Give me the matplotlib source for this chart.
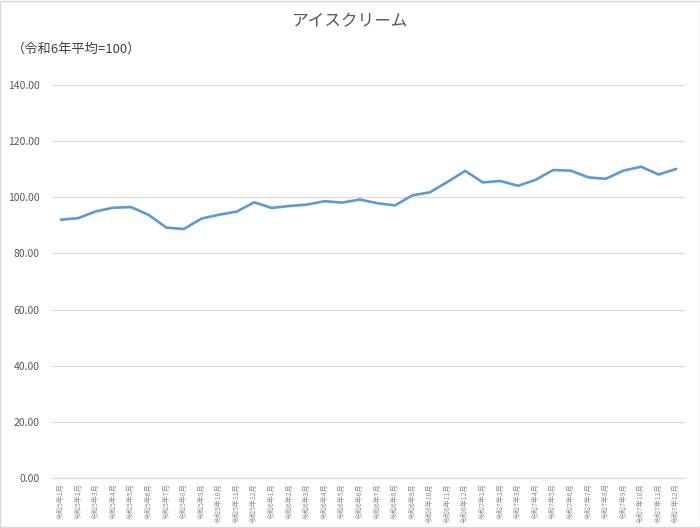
import matplotlib
matplotlib.use('Agg')
import matplotlib.pyplot as plt

plt.rcParams['font.family'] = ['Noto Sans CJK JP', 'DejaVu Sans']

# 令和5年1月 ～ 令和7年12月
months = [f"令和{y}年{m}月" for y in (5, 6, 7) for m in range(1, 13)]
values = [92.0, 92.6, 95.0, 96.3, 96.5, 93.7, 89.2, 88.7, 92.4, 93.8, 94.9, 98.2,
          96.2, 96.9, 97.4, 98.6, 98.1, 99.2, 97.9, 97.1, 100.7, 101.8, 105.5, 109.4,
          105.3, 105.8, 104.1, 106.2, 109.7, 109.5, 107.1, 106.6, 109.5, 110.9, 108.1, 110.1]
yticks = [0, 20, 40, 60, 80, 100, 120, 140]

fig = plt.figure(figsize=(7, 5.28), dpi=100)
ax = fig.add_axes([52 / 700, 50 / 528, 633 / 700, 393 / 528])

x = list(range(len(months)))
ax.plot(x, values, color='#5B9BD5', lw=1.9, solid_capstyle='round', solid_joinstyle='round')

ax.set_xlim(-0.5, len(months) - 0.5)
ax.set_ylim(0, 140)
ax.set_yticks(yticks)
ax.set_yticklabels([f"{v:.2f}" for v in yticks], fontsize=7.5, color='#595959')
ax.set_xticks(x)
ax.set_xticklabels(months, rotation=90, fontsize=5, color='#8C8C8C')
ax.tick_params(axis='both', length=0)
ax.tick_params(axis='y', pad=9)
ax.tick_params(axis='x', pad=4)

ax.grid(axis='y', color='#D9D9D9', lw=0.8)
ax.set_axisbelow(True)
for s in ('top', 'right', 'left'):
    ax.spines[s].set_visible(False)
ax.spines['bottom'].set_color('#D9D9D9')
ax.spines['bottom'].set_linewidth(0.8)

fig.text(0.5, 1 - 22 / 528, 'アイスクリーム', ha='center', va='center', fontsize=12, color='#595959')
fig.text(12 / 700, 1 - 49 / 528, '（令和6年平均=100）', ha='left', va='center', fontsize=9.5, color='#404040')

# chart border
fig.patches.append(plt.Rectangle((0.0007, 0.001), 0.9986, 0.998, transform=fig.transFigure,
                                 fill=False, edgecolor='#D9D9D9', lw=1))

fig.savefig('out.png', dpi=100)
